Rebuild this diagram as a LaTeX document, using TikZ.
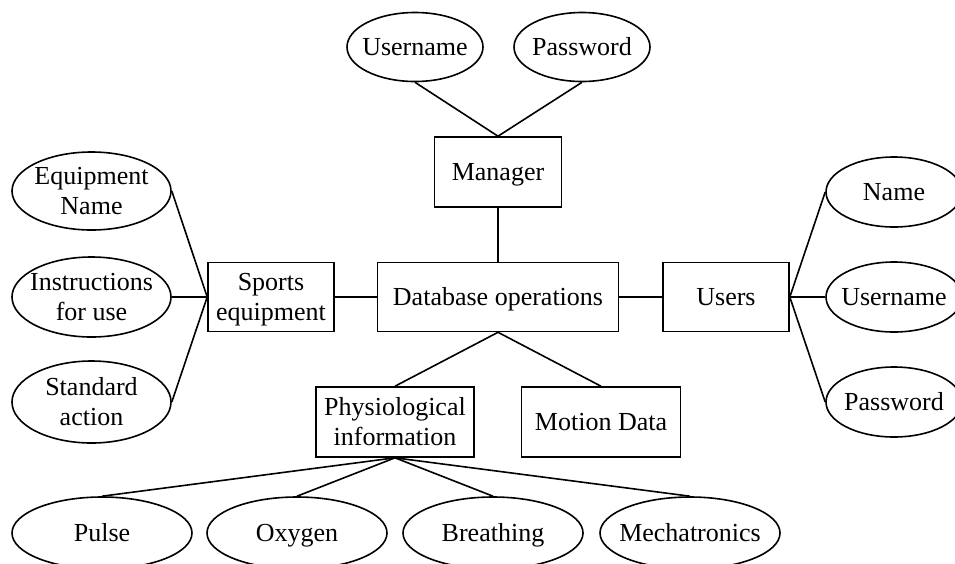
\documentclass[tikz,border=0pt]{standalone}
\usepackage{fontspec}
\setmainfont{Liberation Serif}
\usetikzlibrary{shapes.geometric}
\begin{document}
\begin{tikzpicture}[x=1pt,y=-1pt,
  every node/.style={font=\fontsize{26}{30}\selectfont, inner sep=0pt, align=center, text height=20pt, text depth=4pt},
  two/.style={text height=50pt, text depth=4pt},
  ent/.style={draw, line width=1.6pt, rectangle},
  att/.style={draw, line width=1.6pt, ellipse, label={center:#1}},
  att2/.style={draw, line width=1.6pt, ellipse, label={[two]center:#1}},
  link/.style={line width=1.6pt}]
\useasboundingbox (0,0) rectangle (955,563);
% entities
\node[ent, minimum width=127, minimum height=70] (manager) at (498,172) {Manager};
\node[ent, minimum width=241, minimum height=69] (db) at (498,297) {Database operations};
\node[ent, two, minimum width=126, minimum height=69] (sports) at (271,297) {Sports\\equipment};
\node[ent, minimum width=126, minimum height=69] (users) at (726,297) {Users};
\node[ent, two, minimum width=158, minimum height=70] (phys) at (395,422) {Physiological\\information};
\node[ent, minimum width=159, minimum height=70] (motion) at (601,422) {Motion Data};
% top attributes
\node[att={Username}, minimum width=136, minimum height=69] (muser) at (415,47) {};
\node[att={Password}, minimum width=136, minimum height=69] (mpass) at (582,47) {};
% left attributes
\node[att2={Equipment\\Name}, minimum width=159, minimum height=78] (eqname) at (91.5,191) {};
\node[att2={Instructions\\for use}, minimum width=159, minimum height=80] (instr) at (91.5,297) {};
\node[att2={Standard\\action}, minimum width=159, minimum height=82] (stdact) at (91.5,402) {};
% right attributes
\node[att={Name}, minimum width=136, minimum height=70] (uname) at (894,192) {};
\node[att={Username}, minimum width=136, minimum height=70] (uuser) at (894,297) {};
\node[att={Password}, minimum width=136, minimum height=70] (upass) at (894,402) {};
% bottom attributes
\node[att={Pulse}, minimum width=180, minimum height=72] (pulse) at (102,533) {};
\node[att={Oxygen}, minimum width=180, minimum height=72] (oxy) at (297,533) {};
\node[att={Breathing}, minimum width=180, minimum height=72] (breath) at (493,533) {};
\node[att={Mechatronics}, minimum width=180, minimum height=72] (mecha) at (690,533) {};
% connectors
\draw[link] (muser.south) -- (manager.north);
\draw[link] (mpass.south) -- (manager.north);
\draw[link] (manager.south) -- (db.north);
\draw[link] (sports.east) -- (db.west);
\draw[link] (db.east) -- (users.west);
\draw[link] (db.south) -- (phys.north);
\draw[link] (db.south) -- (motion.north);
\draw[link] (eqname.east) -- (sports.west);
\draw[link] (instr.east) -- (sports.west);
\draw[link] (stdact.east) -- (sports.west);
\draw[link] (users.east) -- (uname.west);
\draw[link] (users.east) -- (uuser.west);
\draw[link] (users.east) -- (upass.west);
\draw[link] (phys.south) -- (pulse.north);
\draw[link] (phys.south) -- (oxy.north);
\draw[link] (phys.south) -- (breath.north);
\draw[link] (phys.south) -- (mecha.north);
\end{tikzpicture}
\end{document}
